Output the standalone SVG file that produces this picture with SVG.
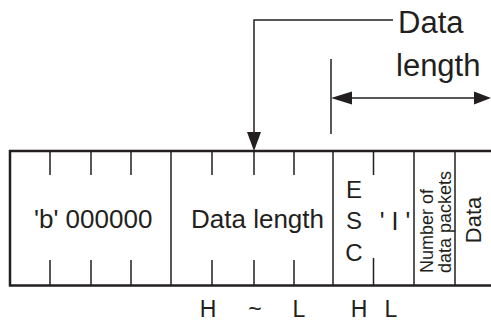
<svg xmlns="http://www.w3.org/2000/svg" width="491" height="323" viewBox="0 0 491 323">
<defs>
<style>
.t{font-family:"Liberation Sans",Arial,sans-serif;fill:#231f20}
.ln{stroke:#231f20;stroke-width:1.5;fill:none}
.bd{stroke:#231f20;stroke-width:2.5;fill:none}
.ah{fill:#231f20}
</style>
</defs>
<rect width="491" height="323" fill="#fff"/>
<g id="frame">
<path class="bd" d="M491,151 H10 V285.5 H491"/>
<path class="ln" d="M171,151 V285.5 M333,151 V285.5 M414,151 V285.5 M455,151 V285.5"/>
<path class="ln" d="M50,151 V175 M91,151 V175 M131,151 V175 M212,151 V175 M254,151 V175 M294,151 V175 M373.5,151 V175"/>
<path class="ln" d="M50,260 V285.5 M91,260 V285.5 M131,260 V285.5 M212,260 V285.5 M254,260 V285.5 M294,260 V285.5 M373.5,258 V285.5"/>
</g>
<g id="field-b">
<text class="t" x="34" y="228" font-size="26">'b' 000000</text>
</g>
<g id="field-length">
<text class="t" x="191" y="228" font-size="26">Data length</text>
</g>
<g id="field-esc">
<text class="t" x="354" y="198" font-size="24" text-anchor="middle">E</text>
<text class="t" x="354" y="229" font-size="24" text-anchor="middle">S</text>
<text class="t" x="354" y="261" font-size="24" text-anchor="middle">C</text>
</g>
<g id="field-i">
<text class="t" x="395" y="230" font-size="25" text-anchor="middle" xml:space="preserve">' I '</text>
</g>
<g id="field-packets">
<text class="t" font-size="18" transform="translate(433,273) rotate(-90)">Number of</text>
<text class="t" font-size="18" transform="translate(451,273) rotate(-90)">data packets</text>
</g>
<g id="field-data">
<text class="t" font-size="22" text-anchor="middle" transform="translate(481,220) rotate(-90)">Data</text>
</g>
<g id="label-data-length">
<text class="t" x="398" y="33" font-size="31">Data</text>
<text class="t" x="396" y="76" font-size="31">length</text>
</g>
<g id="byte-labels">
<text class="t" x="208" y="317" font-size="23" text-anchor="middle">H</text>
<text class="t" x="255" y="317" font-size="23" text-anchor="middle">~</text>
<text class="t" x="299" y="317" font-size="23" text-anchor="middle">L</text>
<text class="t" x="359" y="317" font-size="23" text-anchor="middle">H</text>
<text class="t" x="391" y="317" font-size="23" text-anchor="middle">L</text>
</g>
<g id="connectors">
<path class="ln" d="M393,20 H254 V135"/>
<polygon class="ah" points="247,132 261,132 254,151"/>
<path class="ln" d="M331,59 V134"/>
<path class="ln" d="M345,98 H478"/>
<polygon class="ah" points="331,98 352,91.5 352,104.5"/>
<polygon class="ah" points="491,98 474,91.5 474,104.5"/>
</g>
</svg>
